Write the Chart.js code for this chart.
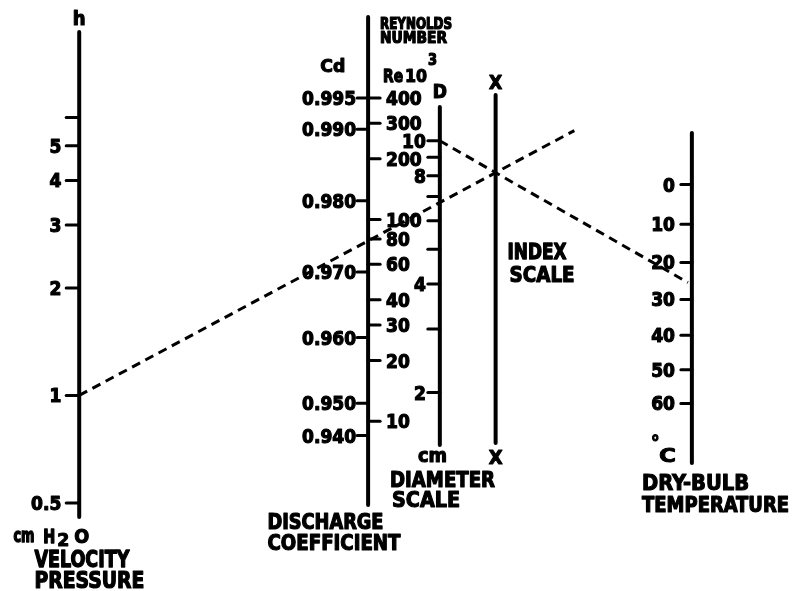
<!DOCTYPE html>
<html><head><meta charset="utf-8">
<script src="https://cdn.jsdelivr.net/npm/chart.js@4"></script>
<style>html,body{margin:0;padding:0;background:#fff;overflow:hidden}canvas{display:block}</style>
</head><body>
<canvas id="c" width="793" height="591"></canvas>
<script>
// ---------------- data ----------------
const hTicks   = [0.5, 1, 2, 3, 4, 5, 6];
const hLabels  = ['0.5', '1', '2', '3', '4', '5', ''];
const reTicks  = [10, 20, 30, 40, 60, 80, 100, 200, 300, 400];
const reLabels = ['10', '20', '30', '40', '60', '80', '100', '200', '300', '400'];
const cdTicks  = [0.940, 0.950, 0.960, 0.970, 0.980, 0.990, 0.995];
const cdLabels = ['0.940', '0.950', '0.960', '0.970', '0.980', '0.990', '0.995'];
const cdAtRe   = [8.5, 12.3, 26, 55, 124, 280, 400];   // Re (x10^3) matching each Cd
const dTicks   = [2, 3, 4, 5, 6, 7, 8, 9, 10];
const dLabels  = ['2', '', '4', '', '', '', '8', '', '10'];
const tTicks   = [0, 10, 20, 30, 40, 50, 60];
const tLabels  = ['0', '10', '20', '30', '40', '50', '60'];
// worked example drawn with dashed lines
const exampleH = 1;    // cm H2O
const exampleD = 10;   // cm
const exampleT = 26;   // deg C

// ---------------- layout ----------------
const W = 793, H = 591;
const lay = {
  hX: 78, hTop: 32, hBot: 517,
  reX: 368, reTop: 17, reBot: 505,
  dX: 440, dTop: 107, dBot: 445,
  xX: 496, xTop: 95, xBot: 443,
  tX: 693, tTop: 133, tBot: 463,
  dashEndX: 575
};
const K0 = 273.15;
function logRange(v1, y1, v2, y2) {
  const k = (y1 - y2) / (Math.log10(v2) - Math.log10(v1));
  const lmin = Math.log10(v1) - (H - y1) / k;
  return { min: Math.pow(10, lmin), max: Math.pow(10, lmin + H / k) };
}
const hR  = logRange(0.5, 504, 5, 145);
const reR = logRange(10, 422, 400, 97);
const dR  = logRange(2, 393, 10, 140);
const tR  = logRange(0 + K0, H - 184, 60 + K0, H - 404);

const CND = s => "bold " + s + "px 'DejaVu Sans Condensed', 'DejaVu Sans', sans-serif";
const NUM = CND(19);
const INK = 1.1;   // extra stroke for the heavy stencil lettering

const nomoPlugin = {
  id: 'nomo',
  beforeDraw(chart) {
    const ctx = chart.ctx;
    ctx.save(); ctx.fillStyle = '#fff'; ctx.fillRect(0, 0, W, H); ctx.restore();
  },
  beforeDatasetsDraw(chart) {
    const ctx = chart.ctx, s = chart.scales;
    const X = v => s.px.getPixelForValue(v);
    ctx.save();
    ctx.strokeStyle = '#000'; ctx.fillStyle = '#000';
    ctx.lineCap = 'round'; ctx.lineJoin = 'round';
    function vline(x, y1, y2) {
      ctx.lineWidth = 4; ctx.beginPath(); ctx.moveTo(X(x), y1); ctx.lineTo(X(x), y2); ctx.stroke();
    }
    function tick(x, y, dx) {
      ctx.lineWidth = 3; ctx.beginPath(); ctx.moveTo(X(x), y); ctx.lineTo(X(x) + dx, y); ctx.stroke();
    }
    function txt(t, x, yBase, font, align) {
      ctx.font = font; ctx.textAlign = align || 'left'; ctx.textBaseline = 'alphabetic';
      ctx.fillText(t, X(x), yBase);
      ctx.lineWidth = INK; ctx.strokeText(t, X(x), yBase);
    }
    // text squeezed/stretched horizontally to a given width (lettering-stencil look)
    function fit(t, x, yBase, size, width) {
      ctx.font = CND(size); ctx.textAlign = 'left'; ctx.textBaseline = 'alphabetic';
      const m = ctx.measureText(t).width;
      ctx.save(); ctx.translate(X(x), yBase); ctx.scale(width / m, 1);
      ctx.fillText(t, 0, 0);
      ctx.lineWidth = INK * m / width; ctx.strokeText(t, 0, 0);
      ctx.restore();
    }
    // axis lines
    vline(lay.hX, lay.hTop, lay.hBot);
    vline(lay.reX, lay.reTop, lay.reBot);
    vline(lay.dX, lay.dTop, lay.dBot);
    vline(lay.xX, lay.xTop, lay.xBot);
    vline(lay.tX, lay.tTop, lay.tBot);

    // h scale
    hTicks.forEach((v, i) => {
      const y = s.hScale.getPixelForValue(v);
      tick(lay.hX, y, -13);
      if (hLabels[i]) txt(hLabels[i], lay.hX - 18, y + 7, NUM, 'right');
    });
    // Re scale
    reTicks.forEach((v, i) => {
      const y = s.reScale.getPixelForValue(v);
      tick(lay.reX, y, 12);
      txt(reLabels[i], lay.reX + 18, y + 7, NUM, 'left');
    });
    // Cd scale
    cdTicks.forEach((v, i) => {
      const y = s.reScale.getPixelForValue(cdAtRe[i]);
      tick(lay.reX, y, -11);
      txt(cdLabels[i], lay.reX - 12, y + 7, NUM, 'right');
    });
    // D scale
    dTicks.forEach((v, i) => {
      const y = s.dScale.getPixelForValue(v);
      tick(lay.dX, y, -12);
      if (dLabels[i]) txt(dLabels[i], lay.dX - 14, y + 7, NUM, 'right');
    });
    // temperature scale
    tTicks.forEach((v, i) => {
      const y = s.tScale.getPixelForValue(v + K0);
      tick(lay.tX, y, -11);
      txt(tLabels[i], lay.tX - 17, y + 7, NUM, 'right');
    });

    // titles
    txt('h', lay.hX, 25, CND(20), 'center');
    fit('cm', 12, 542, 19, 21);
    fit('H', 42, 543, 20, 12);
    fit('2', 56, 546, 18, 12);
    fit('O', 73, 543, 20, 15);
    fit('VELOCITY', 33, 567, 23, 95);
    fit('PRESSURE', 33, 588, 23, 110);

    fit('Cd', 320, 72, 18, 25);
    fit('REYNOLDS', 380, 29, 15, 72);
    fit('NUMBER', 380, 43, 15, 67);
    fit('Re', 383, 82, 18, 20);
    fit('10', 405, 82, 18, 22);
    fit('3', 428, 65, 16, 9);
    fit('DISCHARGE', 267, 529, 22, 116);
    fit('COEFFICIENT', 267, 550, 22, 133);

    txt('D', lay.dX, 98, CND(19), 'center');
    fit('cm', 418, 462, 20, 29);
    fit('DIAMETER', 390, 487, 22, 105);
    fit('SCALE', 392, 507, 22, 68);

    txt('X', lay.xX, 89, CND(19), 'center');
    txt('X', lay.xX, 464, CND(20), 'center');
    fit('INDEX', 508, 259, 22, 59);
    fit('SCALE', 510, 282, 22, 65);

    txt('\u00B0', 652, 449, CND(19));
    fit('C', 660, 462, 20, 17);
    fit('DRY-BULB', 643, 490, 22, 107);
    fit('TEMPERATURE', 643, 512, 22, 147);
    ctx.restore();
  }
};

const dashStyle = {
  showLine: true, borderColor: '#000', borderWidth: 3, borderDash: [9, 6],
  pointRadius: 0, fill: false, clip: false, xAxisID: 'px', yAxisID: 'py', tension: 0
};

const chart = new Chart(document.getElementById('c'), {
  type: 'scatter',
  data: { datasets: [
    Object.assign({ label: 'D-T', data: [] }, dashStyle),
    Object.assign({ label: 'h-X', data: [] }, dashStyle)
  ]},
  options: {
    responsive: false, animation: false, devicePixelRatio: 1,
    layout: { padding: 0 },
    plugins: { legend: { display: false }, tooltip: { enabled: false }, title: { display: false } },
    events: [],
    scales: {
      px: { type: 'linear', axis: 'x', position: 'bottom', min: 0, max: W, bounds: 'data', display: false },
      py: { type: 'linear', axis: 'y', position: 'left', min: 0, max: H, reverse: true, bounds: 'data', display: false },
      hScale:  { type: 'logarithmic', axis: 'y', position: 'left', bounds: 'data', display: false, min: hR.min, max: hR.max },
      reScale: { type: 'logarithmic', axis: 'y', position: 'left', bounds: 'data', display: false, min: reR.min, max: reR.max },
      dScale:  { type: 'logarithmic', axis: 'y', position: 'left', bounds: 'data', display: false, min: dR.min, max: dR.max },
      tScale:  { type: 'logarithmic', axis: 'y', position: 'left', bounds: 'data', display: false, reverse: true, min: tR.min, max: tR.max }
    }
  },
  plugins: [nomoPlugin]
});

// build the dashed construction lines from the example readings
(function () {
  const s = chart.scales;
  const yD = s.dScale.getPixelForValue(exampleD);
  const yT = s.tScale.getPixelForValue(exampleT + K0);
  const slopeB = (yT - yD) / (lay.tX - lay.dX);
  const yPivot = yD + slopeB * (lay.xX - lay.dX);
  const yH = s.hScale.getPixelForValue(exampleH);
  const slopeA = (yPivot - yH) / (lay.xX - lay.hX);
  const endB = lay.tX - 4;
  chart.data.datasets[0].data = [
    { x: lay.dX, y: s.py.getValueForPixel(yD) },
    { x: endB, y: s.py.getValueForPixel(yD + slopeB * (endB - lay.dX)) }
  ];
  chart.data.datasets[1].data = [
    { x: lay.hX, y: s.py.getValueForPixel(yH) },
    { x: lay.dashEndX, y: s.py.getValueForPixel(yH + slopeA * (lay.dashEndX - lay.hX)) }
  ];
  chart.update('none');
})();
</script>
</body></html>
